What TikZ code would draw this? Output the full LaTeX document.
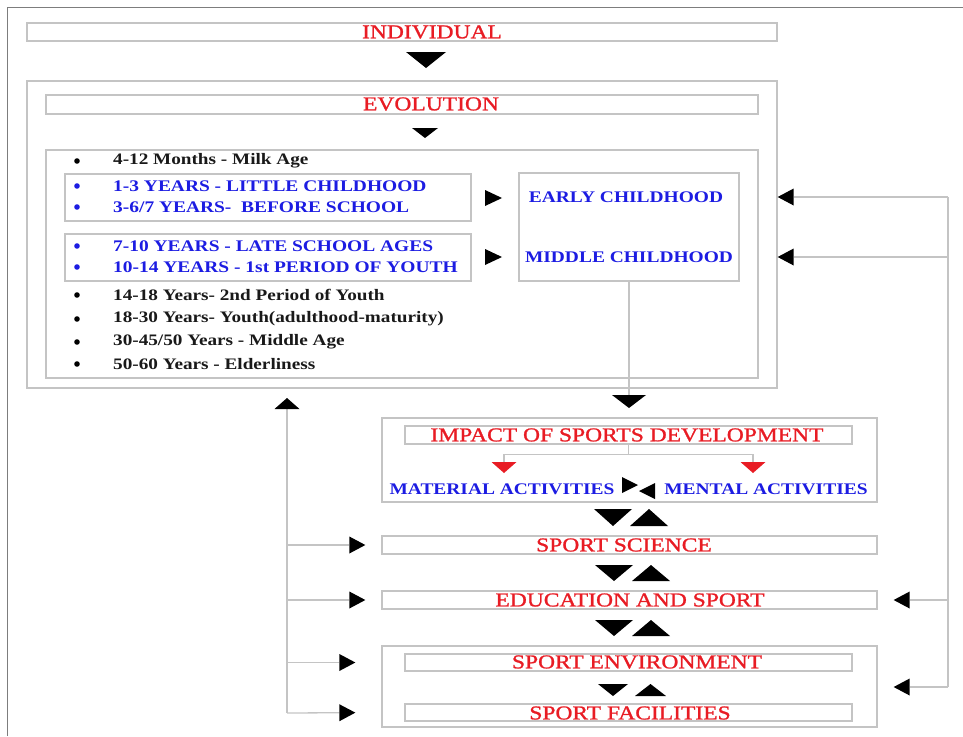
\documentclass[tikz,border=0pt]{standalone}
\usepackage{fontspec}
\setmainfont{Liberation Serif}[FakeStretch=1.2]
\newfontfamily\headfont{Liberation Serif}[FakeStretch=1.2,FakeBold=1.2]
\usetikzlibrary{arrows.meta}

\definecolor{titlered}{RGB}{232,28,36}
\definecolor{ageblue}{RGB}{28,28,226}
\definecolor{rule}{RGB}{196,196,196}
\definecolor{framegray}{RGB}{125,125,125}

% filled triangles: centre/base x, base y, width, height
\newcommand\tridown[4]{\fill ({#1-#3/2},#2) -- ({#1+#3/2},#2) -- (#1,{#2+#4}) -- cycle;}
\newcommand\triup[4]{\fill ({#1-#3/2},{#2+#4}) -- ({#1+#3/2},{#2+#4}) -- (#1,#2) -- cycle;}
\newcommand\triright[4]{\fill (#1,{#2-#4/2}) -- (#1,{#2+#4/2}) -- ({#1+#3},#2) -- cycle;}
\newcommand\trileft[4]{\fill (#1,{#2-#4/2}) -- (#1,{#2+#4/2}) -- ({#1-#3},#2) -- cycle;}

\tikzset{
  box/.style={draw=rule, line width=1.3pt, inner sep=0pt},
  title/.style={text=titlered, font=\headfont\fontsize{19.6}{22}\selectfont, inner sep=0pt},
  agetext/.style={text=ageblue, font=\bfseries\fontsize{16.2}{18}\selectfont, inner sep=0pt, anchor=west},
  plaintext/.style={text=black!90, font=\bfseries\fontsize{16}{18}\selectfont, inner sep=0pt, anchor=west},
  link/.style={draw=rule, line width=1.3pt},
  frame/.style={draw=framegray, line width=0.9pt},
  tipdown/.style={-{Triangle[length=13pt,width=34pt,color=black,line width=0pt]}},
  tipup/.style={-{Triangle[length=11pt,width=25pt,color=black,line width=0pt]}},
  tipside/.style={-{Triangle[length=16pt,width=17pt,color=black,line width=0pt]}},
  tipred/.style={-{Triangle[length=11pt,width=25pt,color=titlered,line width=0pt]}},
}

\begin{document}
\begin{tikzpicture}[x=1pt,y=-1pt]
\useasboundingbox (0,0) rectangle (963,736);

% page frame
\draw[frame] (7,736) -- (7,7) -- (963,7);

% individual
\node[box, minimum width=750pt, minimum height=18pt] (indiv) at (402,32) {};
\node[title] (indivtext) at (432,32) {INDIVIDUAL};
\tridown{426}{52}{40}{16}

% evolution block
\node[box, minimum width=750pt, minimum height=307pt] (evol) at (402,234.5) {};
\node[box, minimum width=712pt, minimum height=19pt] (evoltitle) at (402,104.5) {};
\node[title] (evoltext) at (431,104) {EVOLUTION};
\tridown{425}{128}{26}{10}

\node[box, minimum width=712pt, minimum height=228pt] (ages) at (402,264) {};
\node[box, minimum width=406pt, minimum height=47pt] (grpA) at (268,197.5) {};
\node[box, minimum width=406pt, minimum height=47pt] (grpB) at (268,257.5) {};

\fill (77,161) circle (2.8);
\node[plaintext] (a1) at (113,161) {4-12 Months - Milk Age};
\fill[ageblue] (77,186) circle (2.8);
\node[agetext] (a2) at (113,186) {1-3 YEARS - LITTLE CHILDHOOD};
\fill[ageblue] (77,207) circle (2.8);
\node[agetext] (a3) at (113,207) {3-6/7 YEARS-\ \ BEFORE SCHOOL};
\fill[ageblue] (77,246) circle (2.8);
\node[agetext] (a4) at (113,246) {7-10 YEARS - LATE SCHOOL AGES};
\fill[ageblue] (77,267) circle (2.8);
\node[agetext] (a5) at (113,267) {10-14 YEARS - 1st PERIOD OF YOUTH};
\fill (77,295) circle (2.8);
\node[plaintext] (a6) at (113,295) {14-18 Years- 2nd Period of Youth};
\fill (77,319) circle (2.8);
\node[plaintext] (a7) at (113,319) {18-30 Years- Youth(adulthood-maturity)};
\fill (77,342) circle (2.8);
\node[plaintext] (a8) at (113,342) {30-45/50 Years - Middle Age};
\fill (77,364) circle (2.8);
\node[plaintext] (a9) at (113,364) {50-60 Years - Elderliness};

\triright{485}{198}{17}{16}
\triright{485}{257}{17}{16}

\node[box, minimum width=220pt, minimum height=108pt] (stage) at (629,227) {};
\node[agetext, anchor=center] (early) at (626,197) {EARLY CHILDHOOD};
\node[agetext, anchor=center] (middle) at (629,257) {MIDDLE CHILDHOOD};

% stage box to impact
\coordinate (impin) at (629,408);
\draw[link, tipdown] (stage.south) -- (impin);

% impact of sports development
\node[box, minimum width=495pt, minimum height=84pt] (impact) at (629.5,460) {};
\node[box, minimum width=447pt, minimum height=18pt] (imptitle) at (628.5,435) {};
\node[title] (imptext) at (627,435) {IMPACT OF SPORTS DEVELOPMENT};
\node[agetext, anchor=center] (mat) at (502,489) {MATERIAL ACTIVITIES};
\node[agetext, anchor=center] (men) at (766,489) {MENTAL ACTIVITIES};
\coordinate (matin) at (504,473);
\coordinate (menin) at (753,473);
\draw[link, tipred] (imptitle.south) -- ++(0,10) coordinate (split) -| (matin);
\draw[link, tipred] (split) -| (menin);
\triright{622}{485}{16}{16}
\trileft{655}{491}{16}{16}

\tridown{613}{509}{38}{17}
\triup{649}{509}{38}{17}

% sport science and education
\node[box, minimum width=495pt, minimum height=18pt] (sci) at (629.5,545) {};
\node[title] (scitext) at (624,545) {SPORT SCIENCE};
\tridown{614}{565}{38}{16}
\triup{651}{565}{38}{16}
\node[box, minimum width=495pt, minimum height=18pt] (edu) at (629.5,600) {};
\node[title] (edutext) at (630,600) {EDUCATION AND SPORT};
\tridown{614}{620}{38}{16}
\triup{651}{620}{38}{16}

% environment and facilities
\node[box, minimum width=495pt, minimum height=81pt] (place) at (629.5,686.5) {};
\node[box, minimum width=447pt, minimum height=17pt] (env) at (628.5,662.5) {};
\node[title] (envtext) at (637,662) {SPORT ENVIRONMENT};
\tridown{613}{684}{30}{12}
\triup{650.5}{684}{31}{12}
\node[box, minimum width=447pt, minimum height=17pt] (fac) at (628.5,712.5) {};
\node[title] (factext) at (630,713) {SPORT FACILITIES};

% left feedback line
\coordinate (lftop) at (287,398);
\coordinate (lfbot) at (287,713);
\draw[link, tipup] (lfbot) -- (lftop);
\draw[link, tipside, shorten >=16pt] (lfbot |- sci.west) -- (sci.west);
\draw[link, tipside, shorten >=16pt] (lfbot |- edu.west) -- (edu.west);
\draw[link, tipside, shorten >=26pt] (lfbot |- env.west) -- (place.west |- env.west);
\draw[link, tipside, shorten >=26pt] (lfbot) -- (place.west |- fac.west);

% right feedback line
\coordinate (rftop) at (948,197);
\coordinate (rfbot) at (948,687);
\draw[link] (rftop) -- (rfbot);
\draw[link, tipside] (rftop) -- (rftop -| evol.east);
\draw[link, tipside] (rftop |- middle) -- (middle -| evol.east);
\draw[link, tipside, shorten >=16pt] (rftop |- edu.east) -- (edu.east);
\draw[link, tipside, shorten >=16pt] (rfbot) -- (rfbot -| place.east);
\end{tikzpicture}
\end{document}
